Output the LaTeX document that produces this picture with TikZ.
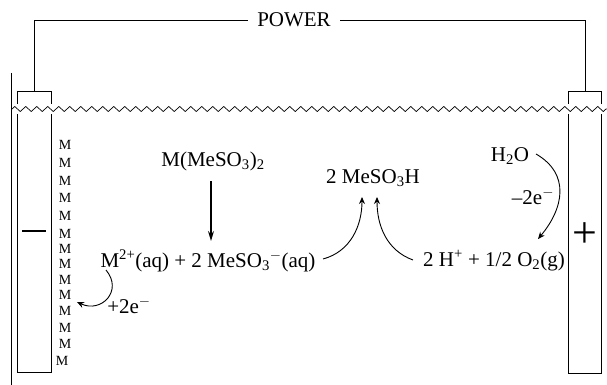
\documentclass[tikz,border=0pt]{standalone}
\usepackage{fontspec}
\setmainfont{Liberation Serif}
\usetikzlibrary{decorations.pathmorphing,arrows.meta}
\tikzset{
	txt/.style={inner sep=0pt,anchor=base,font=\fontsize{21}{24}\selectfont},
	metal/.style={inner sep=0pt,font=\fontsize{14}{16}\selectfont},
	wave/.style={line width=0.7pt,decorate,decoration={zigzag,segment length=11pt,amplitude=2.5pt}},
	flow/.style={-{Stealth[length=7pt,width=6pt]},line width=0.9pt}
}
\begin{document}
\begin{tikzpicture}[x=1pt,y=-1pt,line width=0.9pt]
	\useasboundingbox (0,0) rectangle (607,385);
	% electrodes and wire
	\coordinate (Ltop) at (34,91);
	\coordinate (Rtop) at (585,91);
	\node[txt,inner xsep=9pt] (power) at (294,27) {POWER};
	\draw (Ltop) -- (34,20) -- (power.west |- 34,20);
	\draw (power.east |- 34,20) -- (585,20) -- (Rtop);
	\draw (11.5,73) -- (11.5,385);
	\draw (17.5,104) -- (17.5,91) -- (51,91) -- (51,104);
	\draw (17.5,114) -- (17.5,372) -- (51,372) -- (51,114);
	\draw (568,104) -- (568,91) -- (601,91) -- (601,104);
	\draw (568,114) -- (568,373) -- (601,373) -- (601,114);
	\draw[wave] (12,109) -- (607,109);
	\draw[line width=1.4pt] (22,231) -- (46,231);
	\node[txt,font=\fontsize{44}{44}\selectfont] (plus) at (585,247) {+};
	% metal deposit
	\foreach \y in {145,163,181,198,216,234,249,264,280,295,311,328,344}
		\node[metal] (m\y) at (65,\y) {M};
	\node[metal] (mlast) at (62,361) {M};
	% species
	\node[txt] (salt) at (213,166) {M(MeSO\textsubscript{3})\textsubscript{2}};
	\node[txt] (ions) at (208,267) {M\textsuperscript{2+}(aq) + 2 MeSO\textsubscript{3}$^{-}$(aq)};
	\node[txt] (acid) at (373,183) {2 MeSO\textsubscript{3}H};
	\node[txt] (gas) at (494,266) {2 H\textsuperscript{+} + 1/2 O\textsubscript{2}(g)};
	\node[txt] (water) at (510,161) {H\textsubscript{2}O};
	\node[txt] (minus) at (533,204) {--2e$^{-}$};
	\node[txt] (plustwo) at (129,313) {+2e$^{-}$};
	% arrows
	\draw[-{Stealth[length=10pt,width=6pt]},line width=1.3pt] (211,181) -- (211,241);
	\draw[flow] (323,259) to[out=15,in=-90] (362,197);
	\draw[flow] (413,260) to[out=160,in=-90] (377,197);
	\draw[flow] (536,154) to[out=-30,in=50,looseness=1.2] (538,239);
	\draw[flow] (106,270) to[out=-50,in=-25,looseness=1.6] (77,302);
\end{tikzpicture}
\end{document}
